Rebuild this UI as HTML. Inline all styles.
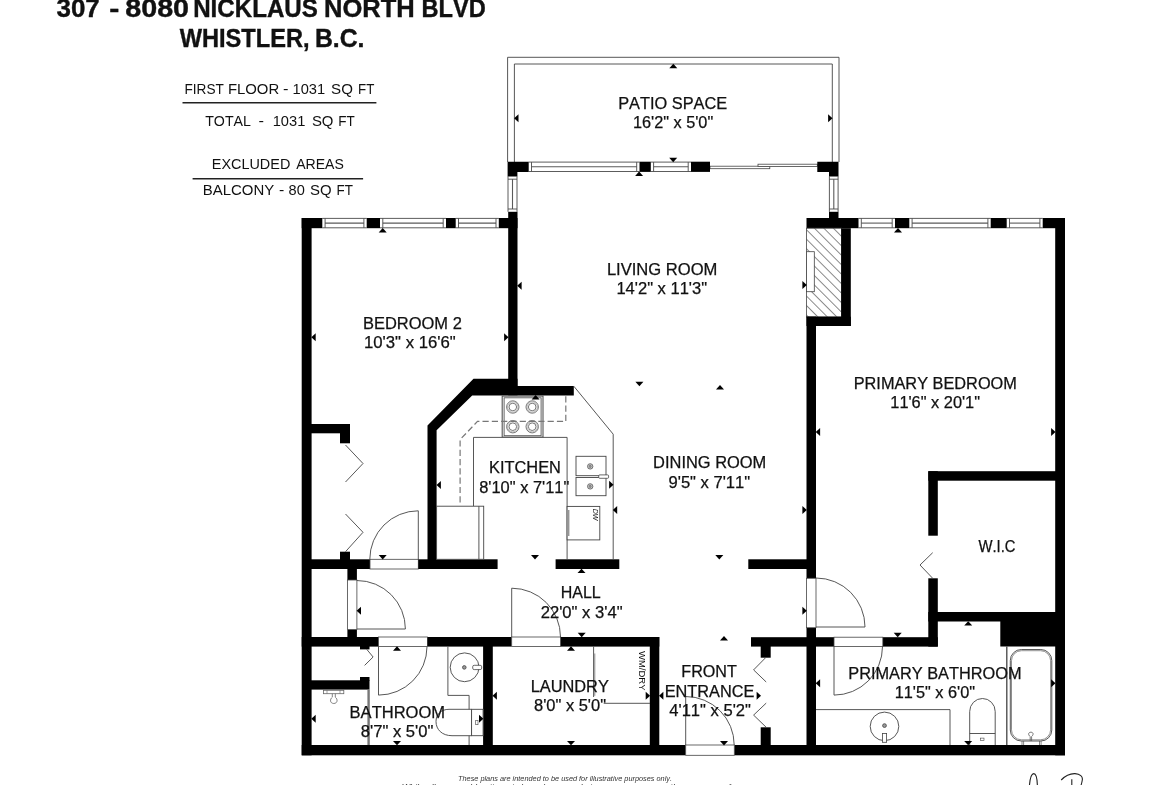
<!DOCTYPE html>
<html><head><meta charset="utf-8"><title>Floor plan</title>
<style>
html,body{margin:0;padding:0;background:#fff;}
body{width:1170px;height:785px;overflow:hidden;}
svg{display:block;font-family:"Liberation Sans",sans-serif;font-kerning:none;will-change:transform;transform:translateZ(0);}
</style></head><body>
<svg width="1170" height="785" viewBox="0 0 1170 785">
<rect x="0" y="0" width="1170" height="785" fill="#fff"/>
<polyline points="182.5,102.8 376.4,102.8" fill="none" stroke="#222" stroke-width="1.5"/>
<polyline points="192.6,178.8 363.1,178.8" fill="none" stroke="#222" stroke-width="1.5"/>
<polyline points="507.6,162.0 507.6,57.3 839.0,57.3 839.0,162.0" fill="none" stroke="#444" stroke-width="0.9"/>
<polyline points="514.4,162.0 514.4,64.0 832.3,64.0 832.3,162.0" fill="none" stroke="#444" stroke-width="0.9"/>
<rect x="528.7" y="161.7" width="110.8" height="10.2" fill="#fff" />
<polyline points="528.7,162.1 639.5,162.1" fill="none" stroke="#4a4a4a" stroke-width="0.9"/>
<polyline points="528.7,171.5 639.5,171.5" fill="none" stroke="#4a4a4a" stroke-width="0.9"/>
<polyline points="531.5,166.8 636.7,166.8" fill="none" stroke="#5a5a5a" stroke-width="1.1"/>
<polyline points="531.5,162.1 531.5,171.5" fill="none" stroke="#4a4a4a" stroke-width="0.9"/>
<polyline points="636.7,162.1 636.7,171.5" fill="none" stroke="#4a4a4a" stroke-width="0.9"/>
<rect x="650.8" y="161.7" width="40.2" height="10.2" fill="#fff" />
<polyline points="650.8,162.1 691.0,162.1" fill="none" stroke="#4a4a4a" stroke-width="0.9"/>
<polyline points="650.8,171.5 691.0,171.5" fill="none" stroke="#4a4a4a" stroke-width="0.9"/>
<polyline points="653.6,166.8 688.2,166.8" fill="none" stroke="#5a5a5a" stroke-width="1.1"/>
<polyline points="653.6,162.1 653.6,171.5" fill="none" stroke="#4a4a4a" stroke-width="0.9"/>
<polyline points="688.2,162.1 688.2,171.5" fill="none" stroke="#4a4a4a" stroke-width="0.9"/>
<rect x="507.6" y="176.4" width="9.8" height="35.4" fill="#fff" />
<polyline points="508.0,176.4 508.0,211.8" fill="none" stroke="#4a4a4a" stroke-width="0.9"/>
<polyline points="517.0,176.4 517.0,211.8" fill="none" stroke="#4a4a4a" stroke-width="0.9"/>
<polyline points="512.5,179.2 512.5,209.0" fill="none" stroke="#5a5a5a" stroke-width="1.1"/>
<polyline points="508.0,179.2 517.0,179.2" fill="none" stroke="#4a4a4a" stroke-width="0.9"/>
<polyline points="508.0,209.0 517.0,209.0" fill="none" stroke="#4a4a4a" stroke-width="0.9"/>
<rect x="829.0" y="176.4" width="9.5" height="35.4" fill="#fff" />
<polyline points="829.4,176.4 829.4,211.8" fill="none" stroke="#4a4a4a" stroke-width="0.9"/>
<polyline points="838.1,176.4 838.1,211.8" fill="none" stroke="#4a4a4a" stroke-width="0.9"/>
<polyline points="833.8,179.2 833.8,209.0" fill="none" stroke="#5a5a5a" stroke-width="1.1"/>
<polyline points="829.4,179.2 838.1,179.2" fill="none" stroke="#4a4a4a" stroke-width="0.9"/>
<polyline points="829.4,209.0 838.1,209.0" fill="none" stroke="#4a4a4a" stroke-width="0.9"/>
<rect x="322.3" y="218.0" width="44.4" height="10.2" fill="#fff" />
<polyline points="322.3,218.4 366.7,218.4" fill="none" stroke="#4a4a4a" stroke-width="0.9"/>
<polyline points="322.3,227.8 366.7,227.8" fill="none" stroke="#4a4a4a" stroke-width="0.9"/>
<polyline points="325.1,223.1 363.9,223.1" fill="none" stroke="#5a5a5a" stroke-width="1.1"/>
<polyline points="325.1,218.4 325.1,227.8" fill="none" stroke="#4a4a4a" stroke-width="0.9"/>
<polyline points="363.9,218.4 363.9,227.8" fill="none" stroke="#4a4a4a" stroke-width="0.9"/>
<rect x="380.0" y="218.0" width="66.0" height="10.2" fill="#fff" />
<polyline points="380.0,218.4 446.0,218.4" fill="none" stroke="#4a4a4a" stroke-width="0.9"/>
<polyline points="380.0,227.8 446.0,227.8" fill="none" stroke="#4a4a4a" stroke-width="0.9"/>
<polyline points="382.8,223.1 443.2,223.1" fill="none" stroke="#5a5a5a" stroke-width="1.1"/>
<polyline points="382.8,218.4 382.8,227.8" fill="none" stroke="#4a4a4a" stroke-width="0.9"/>
<polyline points="443.2,218.4 443.2,227.8" fill="none" stroke="#4a4a4a" stroke-width="0.9"/>
<rect x="455.7" y="218.0" width="43.1" height="10.2" fill="#fff" />
<polyline points="455.7,218.4 498.8,218.4" fill="none" stroke="#4a4a4a" stroke-width="0.9"/>
<polyline points="455.7,227.8 498.8,227.8" fill="none" stroke="#4a4a4a" stroke-width="0.9"/>
<polyline points="458.5,223.1 496.0,223.1" fill="none" stroke="#5a5a5a" stroke-width="1.1"/>
<polyline points="458.5,218.4 458.5,227.8" fill="none" stroke="#4a4a4a" stroke-width="0.9"/>
<polyline points="496.0,218.4 496.0,227.8" fill="none" stroke="#4a4a4a" stroke-width="0.9"/>
<rect x="858.5" y="218.0" width="36.5" height="10.2" fill="#fff" />
<polyline points="858.5,218.4 895.0,218.4" fill="none" stroke="#4a4a4a" stroke-width="0.9"/>
<polyline points="858.5,227.8 895.0,227.8" fill="none" stroke="#4a4a4a" stroke-width="0.9"/>
<polyline points="861.3,223.1 892.2,223.1" fill="none" stroke="#5a5a5a" stroke-width="1.1"/>
<polyline points="861.3,218.4 861.3,227.8" fill="none" stroke="#4a4a4a" stroke-width="0.9"/>
<polyline points="892.2,218.4 892.2,227.8" fill="none" stroke="#4a4a4a" stroke-width="0.9"/>
<rect x="909.3" y="218.0" width="81.4" height="10.2" fill="#fff" />
<polyline points="909.3,218.4 990.7,218.4" fill="none" stroke="#4a4a4a" stroke-width="0.9"/>
<polyline points="909.3,227.8 990.7,227.8" fill="none" stroke="#4a4a4a" stroke-width="0.9"/>
<polyline points="912.1,223.1 987.9,223.1" fill="none" stroke="#5a5a5a" stroke-width="1.1"/>
<polyline points="912.1,218.4 912.1,227.8" fill="none" stroke="#4a4a4a" stroke-width="0.9"/>
<polyline points="987.9,218.4 987.9,227.8" fill="none" stroke="#4a4a4a" stroke-width="0.9"/>
<rect x="1006.7" y="218.0" width="36.0" height="10.2" fill="#fff" />
<polyline points="1006.7,218.4 1042.7,218.4" fill="none" stroke="#4a4a4a" stroke-width="0.9"/>
<polyline points="1006.7,227.8 1042.7,227.8" fill="none" stroke="#4a4a4a" stroke-width="0.9"/>
<polyline points="1009.5,223.1 1039.9,223.1" fill="none" stroke="#5a5a5a" stroke-width="1.1"/>
<polyline points="1009.5,218.4 1009.5,227.8" fill="none" stroke="#4a4a4a" stroke-width="0.9"/>
<polyline points="1039.9,218.4 1039.9,227.8" fill="none" stroke="#4a4a4a" stroke-width="0.9"/>
<rect x="710.0" y="166.2" width="59.8" height="2.5" fill="#fff" stroke="#444" stroke-width="0.8" />
<rect x="758.0" y="164.2" width="59.3" height="2.3" fill="#fff" stroke="#444" stroke-width="0.8" />
<rect x="301.7" y="218.0" width="9.9" height="537.3" fill="#000" />
<rect x="301.7" y="745.0" width="384.0" height="10.3" fill="#000" />
<rect x="734.3" y="745.0" width="330.7" height="10.3" fill="#000" />
<rect x="1055.2" y="218.0" width="9.8" height="537.3" fill="#000" />
<rect x="301.7" y="218.0" width="20.6" height="10.2" fill="#000" />
<rect x="366.7" y="218.0" width="13.3" height="10.2" fill="#000" />
<rect x="446.0" y="218.0" width="9.7" height="10.2" fill="#000" />
<rect x="498.8" y="218.0" width="18.7" height="10.2" fill="#000" />
<rect x="508.2" y="211.8" width="9.3" height="183.6" fill="#000" />
<polygon points="507.6,161.7 528.7,161.7 528.7,171.9 517.4,171.9 517.4,176.4 507.6,176.4" fill="#000"/>
<rect x="639.5" y="161.7" width="11.3" height="10.2" fill="#000" />
<rect x="691.0" y="161.7" width="19.0" height="10.2" fill="#000" />
<polygon points="817.3,161.7 838.5,161.7 838.5,176.4 829.0,176.4 829.0,171.9 817.3,171.9" fill="#000"/>
<rect x="829.0" y="211.8" width="9.5" height="6.7" fill="#000" />
<rect x="806.5" y="218.0" width="52.0" height="10.2" fill="#000" />
<rect x="895.0" y="218.0" width="14.3" height="10.2" fill="#000" />
<rect x="990.7" y="218.0" width="16.0" height="10.2" fill="#000" />
<rect x="1042.7" y="218.0" width="22.3" height="10.2" fill="#000" />
<defs><pattern id="hatch" width="6.7" height="6.7" patternUnits="userSpaceOnUse" patternTransform="rotate(-45 806.5 226.9)"><line x1="0" y1="0" x2="0" y2="6.7" stroke="#222" stroke-width="1.05"/></pattern></defs>
<rect x="806.5" y="228.2" width="35.0" height="88.7" fill="url(#hatch)" stroke="#444" stroke-width="0.8" />
<rect x="806.5" y="251.7" width="7.8" height="40.0" fill="#fff" stroke="#444" stroke-width="0.8" />
<rect x="841.2" y="228.2" width="9.6" height="97.8" fill="#000" />
<rect x="806.5" y="316.7" width="44.3" height="9.3" fill="#000" />
<rect x="806.5" y="316.7" width="9.5" height="261.6" fill="#000" />
<rect x="806.5" y="627.7" width="9.5" height="118.3" fill="#000" />
<rect x="806.5" y="578.3" width="9.5" height="49.4" fill="#fff" stroke="#444" stroke-width="0.8" />
<rect x="748.3" y="559.3" width="58.7" height="9.7" fill="#000" />
<rect x="751.0" y="637.2" width="83.0" height="9.4" fill="#000" />
<rect x="882.8" y="637.2" width="55.0" height="9.4" fill="#000" />
<rect x="834.0" y="637.2" width="48.8" height="9.4" fill="#fff" stroke="#444" stroke-width="0.8" />
<rect x="928.3" y="471.2" width="127.7" height="9.5" fill="#000" />
<rect x="928.3" y="471.2" width="9.5" height="64.5" fill="#000" />
<rect x="928.3" y="578.3" width="9.5" height="68.3" fill="#000" />
<rect x="928.3" y="612.0" width="127.7" height="9.5" fill="#000" />
<rect x="1000.3" y="621.0" width="55.7" height="25.5" fill="#000" />
<polygon points="508.3,378.8 473.5,378.8 427.5,425.4 427.5,569.0 436.6,569.0 436.6,430.2 472.2,395.4 573.8,395.4 573.8,386.0 517.5,386.0 517.5,378.8" fill="#000"/>
<rect x="311.0" y="559.3" width="59.0" height="9.7" fill="#000" />
<rect x="370.0" y="559.3" width="48.3" height="9.7" fill="#fff" stroke="#444" stroke-width="0.8" />
<rect x="418.3" y="559.3" width="79.3" height="9.7" fill="#000" />
<rect x="555.6" y="559.3" width="63.7" height="9.7" fill="#000" />
<rect x="311.0" y="424.0" width="39.0" height="9.3" fill="#000" />
<rect x="340.0" y="433.0" width="10.0" height="10.3" fill="#000" />
<rect x="340.0" y="551.7" width="10.0" height="8.3" fill="#000" />
<rect x="301.7" y="637.0" width="76.8" height="9.6" fill="#000" />
<rect x="378.5" y="637.0" width="49.0" height="9.6" fill="#fff" stroke="#444" stroke-width="0.8" />
<rect x="427.5" y="637.0" width="84.2" height="9.6" fill="#000" />
<rect x="511.7" y="637.0" width="49.0" height="9.6" fill="#fff" stroke="#444" stroke-width="0.8" />
<rect x="560.7" y="637.0" width="98.6" height="9.6" fill="#000" />
<rect x="347.4" y="568.5" width="9.5" height="11.5" fill="#000" />
<rect x="347.4" y="629.5" width="9.5" height="8.0" fill="#000" />
<rect x="347.4" y="580.0" width="9.5" height="49.5" fill="#fff" stroke="#444" stroke-width="0.8" />
<rect x="483.1" y="646.0" width="9.7" height="100.0" fill="#000" />
<rect x="649.8" y="637.0" width="9.5" height="109.0" fill="#000" />
<rect x="311.0" y="680.3" width="58.5" height="9.3" fill="#000" />
<rect x="360.0" y="677.0" width="9.5" height="4.0" fill="#000" />
<rect x="360.0" y="646.0" width="9.5" height="3.4" fill="#000" />
<rect x="760.7" y="646.0" width="10.0" height="11.7" fill="#000" />
<rect x="760.7" y="727.3" width="10.0" height="18.7" fill="#000" />
<rect x="685.7" y="745.0" width="48.6" height="10.3" fill="#fff" stroke="#444" stroke-width="0.8" />
<path d="M418.3,559.3 L418.3,510.8 A48.5,48.5 0 0 0 369.8,559.3" fill="none" stroke="#444" stroke-width="0.9"/>
<path d="M356.9,629.0 L405.4,629.0 A48.5,48.5 0 0 0 356.9,580.5" fill="none" stroke="#444" stroke-width="0.9"/>
<path d="M378.5,646.6 L378.5,695.1 A48.5,48.5 0 0 0 427.0,646.6" fill="none" stroke="#444" stroke-width="0.9"/>
<path d="M511.7,637.0 L511.7,588.2 A48.8,48.8 0 0 1 560.5,637.0" fill="none" stroke="#444" stroke-width="0.9"/>
<path d="M685.7,745.0 L685.7,696.5 A48.5,48.5 0 0 1 734.2,745.0" fill="none" stroke="#444" stroke-width="0.9"/>
<path d="M816.0,627.0 L865.0,627.0 A49.0,49.0 0 0 0 816.0,578.0" fill="none" stroke="#444" stroke-width="0.9"/>
<path d="M834.0,646.6 L834.0,695.1 A48.5,48.5 0 0 0 882.5,646.6" fill="none" stroke="#444" stroke-width="0.9"/>
<polyline points="345.5,445.0 363.0,463.5 345.5,482.0" fill="none" stroke="#444" stroke-width="0.9"/>
<polyline points="345.5,514.0 363.0,532.3 345.5,551.7" fill="none" stroke="#444" stroke-width="0.9"/>
<polyline points="366.8,649.4 373.1,657.0 364.6,665.4" fill="none" stroke="#444" stroke-width="0.9"/>
<polyline points="765.6,657.7 753.6,669.9 766.2,682.0" fill="none" stroke="#444" stroke-width="0.9"/>
<polyline points="766.2,703.1 753.6,715.1 766.2,727.3" fill="none" stroke="#444" stroke-width="0.9"/>
<polyline points="932.7,552.7 920.0,565.0 932.7,578.3" fill="none" stroke="#444" stroke-width="0.9"/>
<polyline points="573.8,386.2 613.2,434.2 613.2,559.3" fill="none" stroke="#444" stroke-width="0.9"/>
<polyline points="473.5,506.4 473.5,437.4 567.1,437.4 567.1,559.3" fill="none" stroke="#444" stroke-width="0.9"/>
<rect x="502.2" y="396.1" width="40.8" height="41.0" fill="#fff" stroke="#555" stroke-width="1.1" />
<rect x="504.1" y="397.8" width="37.0" height="37.9" fill="none" stroke="#555" stroke-width="0.9" />
<circle cx="512.8" cy="407.0" r="6.2" fill="none" stroke="#555" stroke-width="0.8"/>
<circle cx="512.8" cy="407.0" r="5.2" fill="none" stroke="#888" stroke-width="0.6"/>
<circle cx="512.8" cy="407.0" r="3.8" fill="none" stroke="#555" stroke-width="0.8"/>
<circle cx="512.8" cy="426.7" r="6.2" fill="none" stroke="#555" stroke-width="0.8"/>
<circle cx="512.8" cy="426.7" r="5.2" fill="none" stroke="#888" stroke-width="0.6"/>
<circle cx="512.8" cy="426.7" r="3.8" fill="none" stroke="#555" stroke-width="0.8"/>
<circle cx="532.2" cy="407.0" r="6.2" fill="none" stroke="#555" stroke-width="0.8"/>
<circle cx="532.2" cy="407.0" r="5.2" fill="none" stroke="#888" stroke-width="0.6"/>
<circle cx="532.2" cy="407.0" r="3.8" fill="none" stroke="#555" stroke-width="0.8"/>
<circle cx="532.2" cy="426.7" r="6.2" fill="none" stroke="#555" stroke-width="0.8"/>
<circle cx="532.2" cy="426.7" r="5.2" fill="none" stroke="#888" stroke-width="0.6"/>
<circle cx="532.2" cy="426.7" r="3.8" fill="none" stroke="#555" stroke-width="0.8"/>
<polyline points="565.8,396.2 565.8,421.4 477.5,421.4 460.1,439.6 460.1,505.5" fill="none" stroke="#777" stroke-width="1.2" stroke-dasharray="6.2 3.1"/>
<rect x="436.6" y="506.2" width="47.1" height="53.1" fill="#fff" stroke="#444" stroke-width="0.9" />
<polyline points="478.9,506.2 478.9,559.3" fill="none" stroke="#444" stroke-width="0.9"/>
<rect x="576.0" y="456.3" width="30.0" height="19.4" fill="#fff" stroke="#444" stroke-width="0.9" />
<rect x="576.0" y="477.5" width="30.0" height="18.2" fill="#fff" stroke="#444" stroke-width="0.9" />
<circle cx="590.2" cy="466.4" r="2.7" fill="#ccc" stroke="#555" stroke-width="0.8"/>
<circle cx="590.2" cy="466.4" r="1.1" fill="#999" stroke="#555" stroke-width="0.5"/>
<circle cx="590.2" cy="486.4" r="2.7" fill="#ccc" stroke="#555" stroke-width="0.8"/>
<circle cx="590.2" cy="486.4" r="1.1" fill="#999" stroke="#555" stroke-width="0.5"/>
<rect x="598.7" y="474.9" width="9.9" height="3.4" fill="#fff" stroke="#444" stroke-width="0.8" rx="1"/>
<rect x="567.1" y="506.4" width="32.7" height="33.5" fill="#fff" stroke="#444" stroke-width="0.9" />
<polyline points="568.8,510.0 568.8,536.0" fill="none" stroke="#444" stroke-width="0.8"/>
<text x="0.0" y="0.0" font-size="7" text-anchor="middle" font-weight="normal" font-style="italic" fill="#111" transform="translate(593,514.6) rotate(90)">DW</text>
<polyline points="368.6,689.6 368.6,745.0" fill="none" stroke="#777" stroke-width="2.4"/>
<polyline points="447.9,646.6 447.9,695.4 469.1,695.4 469.1,745.0" fill="none" stroke="#444" stroke-width="0.9"/>
<circle cx="464.6" cy="667.3" r="14.4" fill="none" stroke="#444" stroke-width="0.9"/>
<circle cx="464.3" cy="667.4" r="1.8" fill="#999" stroke="#444" stroke-width="0.8"/>
<rect x="472.7" y="665.3" width="9.0" height="4.3" fill="#fff" stroke="#444" stroke-width="0.8" rx="1.5"/>
<path d="M471.6,709.3 L449,709.3 C441,709.3 436,714.5 436,721.5 C436,729.5 442,735.7 452,735.7 L471.6,735.7 Z" fill="#fff" stroke="#444" stroke-width="0.9"/>
<rect x="471.6" y="709.3" width="11.5" height="26.4" fill="#fff" stroke="#444" stroke-width="0.9" />
<rect x="475.7" y="720.5" width="2.3" height="4.2" fill="#fff" stroke="#444" stroke-width="0.6" />
<rect x="323.4" y="690.3" width="20.4" height="3.4" fill="#fff" stroke="#666" stroke-width="0.8" />
<polyline points="327.0,690.3 327.0,693.7" fill="none" stroke="#666" stroke-width="0.6"/>
<polyline points="340.0,690.3 340.0,693.7" fill="none" stroke="#666" stroke-width="0.6"/>
<path d="M332.3,693.7 L332.3,697.2 C329.8,699 329.6,703.3 333.8,703.5 C338,703.3 337.8,699 335.3,697.2 L335.3,693.7" fill="none" stroke="#666" stroke-width="0.8"/>
<polyline points="593.6,646.6 593.6,697.0" fill="none" stroke="#444" stroke-width="0.9"/>
<polyline points="594.8,653.5 594.8,695.8" fill="none" stroke="#444" stroke-width="0.6"/>
<polyline points="603.7,703.3 650.0,703.3" fill="none" stroke="#444" stroke-width="0.9"/>
<text x="0.0" y="0.0" font-size="8.6" text-anchor="start" font-weight="normal" font-style="normal" fill="#111" textLength="39.5" lengthAdjust="spacingAndGlyphs" transform="translate(638.6,651) rotate(90)">WM/DRY</text>
<polyline points="816.0,709.6 950.0,709.6 950.0,745.0" fill="none" stroke="#444" stroke-width="0.9"/>
<circle cx="884.5" cy="726.4" r="14.3" fill="none" stroke="#444" stroke-width="0.9"/>
<circle cx="884.5" cy="725.6" r="1.9" fill="#999" stroke="#444" stroke-width="0.8"/>
<rect x="882.4" y="733.5" width="4.2" height="8.8" fill="#fff" stroke="#444" stroke-width="0.8" />
<path d="M969.7,745 L969.7,711.5 A12.75,13 0 0 1 995.2,711.5 L995.2,745" fill="none" stroke="#444" stroke-width="0.9"/>
<polyline points="969.7,733.5 995.2,733.5" fill="none" stroke="#444" stroke-width="0.9"/>
<rect x="980.3" y="738.1" width="3.7" height="2.2" fill="#fff" stroke="#444" stroke-width="0.6" />
<polyline points="1006.8,646.5 1006.8,745.0" fill="none" stroke="#444" stroke-width="1.3"/>
<rect x="1010.3" y="649.5" width="41.5" height="91.5" fill="#fff" stroke="#444" stroke-width="0.9" rx="11" ry="11"/>
<rect x="1011.5" y="650.7" width="39.1" height="89.1" fill="none" stroke="#444" stroke-width="0.6" rx="10" ry="10"/>
<path d="M1030.2,741 L1030.2,736.5 C1028,735 1028,732.3 1030.9,732.2 C1033.8,732.3 1033.6,735 1031.6,736.5 L1031.6,741" fill="none" stroke="#555" stroke-width="0.8"/>
<polyline points="1022.0,741.0 1022.0,745.0" fill="none" stroke="#555" stroke-width="0.7"/>
<polyline points="1023.6,741.0 1023.6,745.0" fill="none" stroke="#555" stroke-width="0.7"/>
<polyline points="1039.5,741.0 1039.5,745.0" fill="none" stroke="#555" stroke-width="0.7"/>
<polyline points="1041.1,741.0 1041.1,745.0" fill="none" stroke="#555" stroke-width="0.7"/>
<text x="618.2" y="109.0" font-size="16" text-anchor="start" font-weight="normal" font-style="normal" fill="#111" textLength="109.0" lengthAdjust="spacingAndGlyphs" stroke="#111" stroke-width="0.25">PATIO SPACE</text>
<text x="633.0" y="128.2" font-size="16" text-anchor="start" font-weight="normal" font-style="normal" fill="#111" textLength="80.2" lengthAdjust="spacingAndGlyphs" stroke="#111" stroke-width="0.25">16'2&quot; x 5'0&quot;</text>
<text x="606.9" y="274.6" font-size="16" text-anchor="start" font-weight="normal" font-style="normal" fill="#111" textLength="110.5" lengthAdjust="spacingAndGlyphs" stroke="#111" stroke-width="0.25">LIVING ROOM</text>
<text x="616.4" y="293.6" font-size="16" text-anchor="start" font-weight="normal" font-style="normal" fill="#111" textLength="90.7" lengthAdjust="spacingAndGlyphs" stroke="#111" stroke-width="0.25">14'2&quot; x 11'3&quot;</text>
<text x="363.0" y="328.6" font-size="16" text-anchor="start" font-weight="normal" font-style="normal" fill="#111" textLength="98.8" lengthAdjust="spacingAndGlyphs" stroke="#111" stroke-width="0.25">BEDROOM 2</text>
<text x="364.0" y="347.9" font-size="16" text-anchor="start" font-weight="normal" font-style="normal" fill="#111" textLength="91.8" lengthAdjust="spacingAndGlyphs" stroke="#111" stroke-width="0.25">10'3&quot; x 16'6&quot;</text>
<text x="853.7" y="389.1" font-size="16" text-anchor="start" font-weight="normal" font-style="normal" fill="#111" textLength="163.2" lengthAdjust="spacingAndGlyphs" stroke="#111" stroke-width="0.25">PRIMARY BEDROOM</text>
<text x="890.3" y="408.2" font-size="16" text-anchor="start" font-weight="normal" font-style="normal" fill="#111" textLength="89.7" lengthAdjust="spacingAndGlyphs" stroke="#111" stroke-width="0.25">11'6&quot; x 20'1&quot;</text>
<text x="489.1" y="473.2" font-size="16" text-anchor="start" font-weight="normal" font-style="normal" fill="#111" textLength="71.8" lengthAdjust="spacingAndGlyphs" stroke="#111" stroke-width="0.25">KITCHEN</text>
<text x="479.2" y="493.2" font-size="16" text-anchor="start" font-weight="normal" font-style="normal" fill="#111" textLength="90.1" lengthAdjust="spacingAndGlyphs" stroke="#111" stroke-width="0.25">8'10&quot; x 7'11&quot;</text>
<text x="653.1" y="467.9" font-size="16" text-anchor="start" font-weight="normal" font-style="normal" fill="#111" textLength="113.2" lengthAdjust="spacingAndGlyphs" stroke="#111" stroke-width="0.25">DINING ROOM</text>
<text x="668.5" y="487.6" font-size="16" text-anchor="start" font-weight="normal" font-style="normal" fill="#111" textLength="81.7" lengthAdjust="spacingAndGlyphs" stroke="#111" stroke-width="0.25">9'5&quot; x 7'11&quot;</text>
<text x="560.7" y="598.2" font-size="16" text-anchor="start" font-weight="normal" font-style="normal" fill="#111" textLength="40.0" lengthAdjust="spacingAndGlyphs" stroke="#111" stroke-width="0.25">HALL</text>
<text x="540.7" y="617.6" font-size="16" text-anchor="start" font-weight="normal" font-style="normal" fill="#111" textLength="81.9" lengthAdjust="spacingAndGlyphs" stroke="#111" stroke-width="0.25">22'0&quot; x 3'4&quot;</text>
<text x="978.4" y="552.0" font-size="16" text-anchor="start" font-weight="normal" font-style="normal" fill="#111" textLength="37.1" lengthAdjust="spacingAndGlyphs" stroke="#111" stroke-width="0.25">W.I.C</text>
<text x="349.6" y="717.6" font-size="16" text-anchor="start" font-weight="normal" font-style="normal" fill="#111" textLength="95.5" lengthAdjust="spacingAndGlyphs" stroke="#111" stroke-width="0.25">BATHROOM</text>
<text x="360.8" y="736.5" font-size="16" text-anchor="start" font-weight="normal" font-style="normal" fill="#111" textLength="72.5" lengthAdjust="spacingAndGlyphs" stroke="#111" stroke-width="0.25">8'7&quot; x 5'0&quot;</text>
<text x="530.7" y="692.0" font-size="16" text-anchor="start" font-weight="normal" font-style="normal" fill="#111" textLength="78.1" lengthAdjust="spacingAndGlyphs" stroke="#111" stroke-width="0.25">LAUNDRY</text>
<text x="534.0" y="711.2" font-size="16" text-anchor="start" font-weight="normal" font-style="normal" fill="#111" textLength="72.0" lengthAdjust="spacingAndGlyphs" stroke="#111" stroke-width="0.25">8'0&quot; x 5'0&quot;</text>
<text x="681.3" y="677.0" font-size="16" text-anchor="start" font-weight="normal" font-style="normal" fill="#111" textLength="55.5" lengthAdjust="spacingAndGlyphs" stroke="#111" stroke-width="0.25">FRONT</text>
<text x="664.7" y="697.0" font-size="16" text-anchor="start" font-weight="normal" font-style="normal" fill="#111" textLength="89.7" lengthAdjust="spacingAndGlyphs" stroke="#111" stroke-width="0.25">ENTRANCE</text>
<text x="669.3" y="716.0" font-size="16" text-anchor="start" font-weight="normal" font-style="normal" fill="#111" textLength="81.6" lengthAdjust="spacingAndGlyphs" stroke="#111" stroke-width="0.25">4'11&quot; x 5'2&quot;</text>
<text x="848.3" y="678.8" font-size="16" text-anchor="start" font-weight="normal" font-style="normal" fill="#111" textLength="173.2" lengthAdjust="spacingAndGlyphs" stroke="#111" stroke-width="0.25">PRIMARY BATHROOM</text>
<text x="894.7" y="698.1" font-size="16" text-anchor="start" font-weight="normal" font-style="normal" fill="#111" textLength="80.4" lengthAdjust="spacingAndGlyphs" stroke="#111" stroke-width="0.25">11'5&quot; x 6'0&quot;</text>
<text x="184.5" y="93.5" font-size="15.4" text-anchor="start" font-weight="normal" font-style="normal" fill="#111" textLength="39.4" lengthAdjust="spacingAndGlyphs" >FIRST</text>
<text x="227.9" y="93.5" font-size="15.4" text-anchor="start" font-weight="normal" font-style="normal" fill="#111" textLength="51.3" lengthAdjust="spacingAndGlyphs" >FLOOR</text>
<text x="283.0" y="93.5" font-size="15.4" text-anchor="start" font-weight="normal" font-style="normal" fill="#111" textLength="5.5" lengthAdjust="spacingAndGlyphs" >-</text>
<text x="292.5" y="93.5" font-size="15.4" text-anchor="start" font-weight="normal" font-style="normal" fill="#111" textLength="32.6" lengthAdjust="spacingAndGlyphs" >1031</text>
<text x="331.1" y="93.5" font-size="15.4" text-anchor="start" font-weight="normal" font-style="normal" fill="#111" textLength="21.8" lengthAdjust="spacingAndGlyphs" >SQ</text>
<text x="358.1" y="93.5" font-size="15.4" text-anchor="start" font-weight="normal" font-style="normal" fill="#111" textLength="16.3" lengthAdjust="spacingAndGlyphs" >FT</text>
<text x="205.2" y="125.6" font-size="15.4" text-anchor="start" font-weight="normal" font-style="normal" fill="#111" textLength="45.8" lengthAdjust="spacingAndGlyphs" >TOTAL</text>
<text x="258.6" y="125.6" font-size="15.4" text-anchor="start" font-weight="normal" font-style="normal" fill="#111" textLength="5.5" lengthAdjust="spacingAndGlyphs" >-</text>
<text x="272.7" y="125.6" font-size="15.4" text-anchor="start" font-weight="normal" font-style="normal" fill="#111" textLength="32.6" lengthAdjust="spacingAndGlyphs" >1031</text>
<text x="311.9" y="125.6" font-size="15.4" text-anchor="start" font-weight="normal" font-style="normal" fill="#111" textLength="21.6" lengthAdjust="spacingAndGlyphs" >SQ</text>
<text x="338.3" y="125.6" font-size="15.4" text-anchor="start" font-weight="normal" font-style="normal" fill="#111" textLength="16.5" lengthAdjust="spacingAndGlyphs" >FT</text>
<text x="211.8" y="169.2" font-size="15.4" text-anchor="start" font-weight="normal" font-style="normal" fill="#111" textLength="78.5" lengthAdjust="spacingAndGlyphs" >EXCLUDED</text>
<text x="296.2" y="169.2" font-size="15.4" text-anchor="start" font-weight="normal" font-style="normal" fill="#111" textLength="47.7" lengthAdjust="spacingAndGlyphs" >AREAS</text>
<text x="202.7" y="194.9" font-size="15.4" text-anchor="start" font-weight="normal" font-style="normal" fill="#111" textLength="71.5" lengthAdjust="spacingAndGlyphs" >BALCONY</text>
<text x="279.0" y="194.9" font-size="15.4" text-anchor="start" font-weight="normal" font-style="normal" fill="#111" textLength="5.3" lengthAdjust="spacingAndGlyphs" >-</text>
<text x="288.6" y="194.9" font-size="15.4" text-anchor="start" font-weight="normal" font-style="normal" fill="#111" textLength="16.2" lengthAdjust="spacingAndGlyphs" >80</text>
<text x="310.1" y="194.9" font-size="15.4" text-anchor="start" font-weight="normal" font-style="normal" fill="#111" textLength="21.6" lengthAdjust="spacingAndGlyphs" >SQ</text>
<text x="336.5" y="194.9" font-size="15.4" text-anchor="start" font-weight="normal" font-style="normal" fill="#111" textLength="16.4" lengthAdjust="spacingAndGlyphs" >FT</text>
<text x="56.5" y="17.4" font-size="25.5" text-anchor="start" font-weight="bold" font-style="normal" fill="#111" textLength="43.3" lengthAdjust="spacingAndGlyphs" stroke="#111" stroke-width="0.4">307</text>
<text x="109.3" y="17.4" font-size="25.5" text-anchor="start" font-weight="bold" font-style="normal" fill="#111" textLength="10.1" lengthAdjust="spacingAndGlyphs" stroke="#111" stroke-width="0.4">-</text>
<text x="125.2" y="17.4" font-size="25.5" text-anchor="start" font-weight="bold" font-style="normal" fill="#111" textLength="63.9" lengthAdjust="spacingAndGlyphs" stroke="#111" stroke-width="0.4">8080</text>
<text x="193.2" y="17.4" font-size="25.5" text-anchor="start" font-weight="bold" font-style="normal" fill="#111" textLength="124.7" lengthAdjust="spacingAndGlyphs" stroke="#111" stroke-width="0.4">NICKLAUS</text>
<text x="324.0" y="17.4" font-size="25.5" text-anchor="start" font-weight="bold" font-style="normal" fill="#111" textLength="90.8" lengthAdjust="spacingAndGlyphs" stroke="#111" stroke-width="0.4">NORTH</text>
<text x="421.5" y="17.4" font-size="25.5" text-anchor="start" font-weight="bold" font-style="normal" fill="#111" textLength="64.2" lengthAdjust="spacingAndGlyphs" stroke="#111" stroke-width="0.4">BLVD</text>
<text x="179.7" y="47.2" font-size="25.5" text-anchor="start" font-weight="bold" font-style="normal" fill="#111" textLength="129.8" lengthAdjust="spacingAndGlyphs" stroke="#111" stroke-width="0.4">WHISTLER,</text>
<text x="314.9" y="47.2" font-size="25.5" text-anchor="start" font-weight="bold" font-style="normal" fill="#111" textLength="49.5" lengthAdjust="spacingAndGlyphs" stroke="#111" stroke-width="0.4">B.C.</text>
<polygon points="669.3,68.2 677.3,68.2 673.3,63.8" fill="#000"/>
<polygon points="518.5,114.3 518.5,122.3 514.1,118.3" fill="#000"/>
<polygon points="828.1,114.3 828.1,122.3 832.5,118.3" fill="#000"/>
<polygon points="669.2,157.8 677.2,157.8 673.2,162.2" fill="#000"/>
<polygon points="635.1,176.0 643.1,176.0 639.1,171.6" fill="#000"/>
<polygon points="378.7,232.4 386.7,232.4 382.7,228.0" fill="#000"/>
<polygon points="521.6,281.7 521.6,289.7 517.2,285.7" fill="#000"/>
<polygon points="315.7,333.3 315.7,341.3 311.3,337.3" fill="#000"/>
<polygon points="504.1,333.3 504.1,341.3 508.5,337.3" fill="#000"/>
<polygon points="635.4,381.8 643.4,381.8 639.4,386.2" fill="#000"/>
<polygon points="716.0,389.5 724.0,389.5 720.0,385.1" fill="#000"/>
<polygon points="531.6,399.4 539.6,399.4 535.6,395.0" fill="#000"/>
<polygon points="802.4,281.0 802.4,289.0 806.8,285.0" fill="#000"/>
<polygon points="820.1,428.0 820.1,436.0 815.7,432.0" fill="#000"/>
<polygon points="894.0,232.5 902.0,232.5 898.0,228.1" fill="#000"/>
<polygon points="1051.1,428.0 1051.1,436.0 1055.5,432.0" fill="#000"/>
<polygon points="440.9,481.0 440.9,489.0 436.5,485.0" fill="#000"/>
<polygon points="609.1,480.7 609.1,488.7 613.5,484.7" fill="#000"/>
<polygon points="617.2,506.0 617.2,514.0 612.8,510.0" fill="#000"/>
<polygon points="802.4,506.0 802.4,514.0 806.8,510.0" fill="#000"/>
<polygon points="378.7,555.1 386.7,555.1 382.7,559.5" fill="#000"/>
<polygon points="531.0,555.1 539.0,555.1 535.0,559.5" fill="#000"/>
<polygon points="715.3,555.1 723.3,555.1 719.3,559.5" fill="#000"/>
<polygon points="577.5,573.1 585.5,573.1 581.5,568.7" fill="#000"/>
<polygon points="361.0,606.7 361.0,614.7 356.6,610.7" fill="#000"/>
<polygon points="802.4,606.7 802.4,614.7 806.8,610.7" fill="#000"/>
<polygon points="577.7,632.8 585.7,632.8 581.7,637.2" fill="#000"/>
<polygon points="393.0,650.7 401.0,650.7 397.0,646.3" fill="#000"/>
<polygon points="567.0,650.7 575.0,650.7 571.0,646.3" fill="#000"/>
<polygon points="720.0,640.4 728.0,640.4 724.0,636.0" fill="#000"/>
<polygon points="893.7,632.8 901.7,632.8 897.7,637.2" fill="#000"/>
<polygon points="964.2,625.6 972.2,625.6 968.2,621.2" fill="#000"/>
<polygon points="496.9,691.7 496.9,699.7 492.5,695.7" fill="#000"/>
<polygon points="645.7,691.7 645.7,699.7 650.1,695.7" fill="#000"/>
<polygon points="663.4,691.7 663.4,699.7 659.0,695.7" fill="#000"/>
<polygon points="756.6,691.7 756.6,699.7 761.0,695.7" fill="#000"/>
<polygon points="315.7,714.8 315.7,722.8 311.3,718.8" fill="#000"/>
<polygon points="479.0,714.8 479.0,722.8 483.4,718.8" fill="#000"/>
<polygon points="820.1,679.3 820.1,687.3 815.7,683.3" fill="#000"/>
<polygon points="1051.1,679.2 1051.1,687.2 1055.5,683.2" fill="#000"/>
<polygon points="393.0,740.9 401.0,740.9 397.0,745.3" fill="#000"/>
<polygon points="567.0,740.9 575.0,740.9 571.0,745.3" fill="#000"/>
<polygon points="720.0,741.1 728.0,741.1 724.0,745.5" fill="#000"/>
<polygon points="964.2,740.9 972.2,740.9 968.2,745.3" fill="#000"/>
<text x="565.0" y="781.0" font-size="7.3" text-anchor="middle" font-weight="normal" font-style="italic" fill="#333" textLength="214.0" lengthAdjust="spacingAndGlyphs" >These plans are intended to be used for illustrative purposes only.</text>
<text x="566.2" y="788.5" font-size="7.3" text-anchor="middle" font-weight="normal" font-style="italic" fill="#333" textLength="329.0" lengthAdjust="spacingAndGlyphs" >While all reasonable attempts have been made to ensure accuracy, the accuracy of</text>
<path d="M1029.4,786 C1030,778 1031.5,773.6 1033.8,773.6 C1036.2,773.6 1037.2,778 1037.4,786" fill="none" stroke="#222" stroke-width="1.1"/>
<path d="M1061.2,780 C1065,776 1070,773.4 1075,773.6 C1080,774 1083,776.5 1082.3,780 C1082,782 1081.5,784 1080.8,786" fill="none" stroke="#222" stroke-width="1.1"/>
<path d="M1071.8,779.2 L1071.8,786" fill="none" stroke="#222" stroke-width="1.1"/>
</svg>
</body></html>
